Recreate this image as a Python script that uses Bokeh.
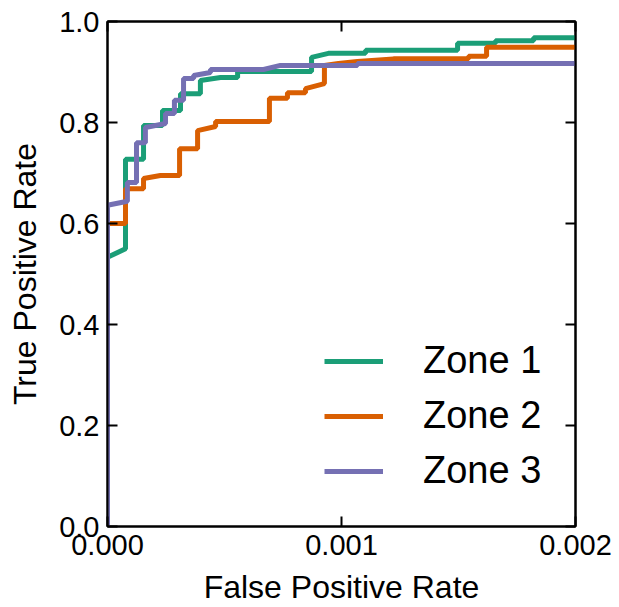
from bokeh.plotting import figure
from bokeh.models import (LinearAxis, FixedTicker, PrintfTickFormatter, CustomJSTickFormatter,
                          Legend, LegendItem, Range1d)
from bokeh.embed import file_html
from bokeh.resources import INLINE

# ---------------- data ----------------
zone1_fpr = [0.0, 0.0, 0.077e-3, 0.077e-3, 0.154e-3, 0.154e-3, 0.235e-3, 0.235e-3, 0.312e-3,
             0.312e-3, 0.397e-3, 0.397e-3, 0.483e-3, 0.556e-3, 0.556e-3, 0.872e-3, 0.872e-3,
             0.944e-3, 1.103e-3, 1.103e-3, 1.496e-3, 1.496e-3, 1.658e-3, 1.658e-3, 1.821e-3,
             1.821e-3, 2.0e-3]
zone1_tpr = [0.0, 0.533, 0.550, 0.727, 0.727, 0.794, 0.794, 0.824, 0.824,
             0.857, 0.857, 0.883, 0.889, 0.889, 0.901, 0.901, 0.929,
             0.937, 0.937, 0.943, 0.943, 0.957, 0.957, 0.962, 0.962,
             0.968, 0.968]

zone2_fpr = [0.0, 0.0, 0.077e-3, 0.077e-3, 0.154e-3, 0.154e-3, 0.226e-3, 0.308e-3, 0.308e-3,
             0.385e-3, 0.385e-3, 0.462e-3, 0.462e-3, 0.692e-3, 0.692e-3, 0.769e-3, 0.769e-3,
             0.846e-3, 0.846e-3, 0.927e-3, 0.927e-3, 0.987e-3, 1.068e-3, 1.222e-3, 1.543e-3,
             1.543e-3, 1.620e-3, 1.620e-3, 2.0e-3]
zone2_tpr = [0.0, 0.600, 0.600, 0.669, 0.669, 0.689, 0.695, 0.695, 0.748,
             0.748, 0.784, 0.792, 0.802, 0.802, 0.848, 0.848, 0.859,
             0.859, 0.867, 0.877, 0.913, 0.917, 0.921, 0.926, 0.926,
             0.931, 0.931, 0.949, 0.949]

zone3_fpr = [0.0, 0.0, 0.085e-3, 0.085e-3, 0.124e-3, 0.124e-3, 0.162e-3, 0.162e-3, 0.248e-3,
             0.248e-3, 0.286e-3, 0.286e-3, 0.325e-3, 0.325e-3, 0.368e-3, 0.368e-3, 0.440e-3,
             0.440e-3, 0.667e-3, 0.739e-3, 1.068e-3, 1.068e-3, 2.0e-3]
zone3_tpr = [0.0, 0.636, 0.644, 0.681, 0.681, 0.760, 0.760, 0.790, 0.798,
             0.818, 0.818, 0.844, 0.844, 0.887, 0.887, 0.893, 0.899,
             0.905, 0.905, 0.913, 0.913, 0.917, 0.917]

series_names = ["Zone 1", "Zone 2", "Zone 3"]
series_colors = ["#1b9e77", "#d95f02", "#7570b3"]

x_ticks = [0.0, 0.001, 0.002]
y_ticks = [0.0, 0.2, 0.4, 0.6, 0.8, 1.0]

FONT = "Liberation Sans"

p = figure(width=619, height=607, output_backend="svg", toolbar_location=None,
           x_range=Range1d(0, 0.002), y_range=Range1d(0, 1.0),
           min_border_left=107, min_border_right=44, min_border_top=21, min_border_bottom=81,
           x_axis_label="False Positive Rate", y_axis_label="True Positive Rate")
p.grid.visible = False
p.outline_line_color = "black"
p.outline_line_width = 2
p.background_fill_color = "white"
p.border_fill_color = "white"

renderers = []
for xs, ys, c in [(zone1_fpr, zone1_tpr, series_colors[0]),
                  (zone2_fpr, zone2_tpr, series_colors[1]),
                  (zone3_fpr, zone3_tpr, series_colors[2])]:
    r = p.line(xs, ys, line_color=c, line_width=5)
    renderers.append(r)

# main axes
xa = p.xaxis[0]
ya = p.yaxis[0]
xa.ticker = FixedTicker(ticks=x_ticks)
ya.ticker = FixedTicker(ticks=y_ticks)
xa.formatter = PrintfTickFormatter(format="%.3f")
ya.formatter = PrintfTickFormatter(format="%.1f")
for ax in (xa, ya):
    ax.major_tick_in = 10
    ax.major_tick_out = 0
    ax.minor_tick_line_color = None
    ax.major_tick_line_width = 2
    ax.axis_line_width = 2
    ax.axis_line_color = "black"
    ax.major_tick_line_color = "black"
    ax.major_label_text_font = FONT
    ax.major_label_text_font_size = "29px"
    ax.major_label_text_color = "black"
    ax.axis_label_text_font = FONT
    ax.axis_label_text_font_size = "32px"
    ax.axis_label_text_font_style = "normal"
    ax.axis_label_text_color = "black"
xa.major_label_standoff = 8
xa.axis_label_standoff = 11
ya.major_label_standoff = 8
ya.axis_label_standoff = 13

# mirrored ticks on top and right
blank = CustomJSTickFormatter(code="return ''")
top = LinearAxis(ticker=FixedTicker(ticks=x_ticks), formatter=blank)
right = LinearAxis(ticker=FixedTicker(ticks=y_ticks), formatter=blank)
for ax in (top, right):
    ax.major_tick_in = 10
    ax.major_tick_out = 0
    ax.minor_tick_line_color = None
    ax.major_tick_line_width = 2
    ax.axis_line_width = 2
    ax.major_label_standoff = 0
    ax.major_label_text_font_size = "1px"
p.add_layout(top, "above")
p.add_layout(right, "right")

legend = Legend(items=[LegendItem(label=n, renderers=[r]) for n, r in zip(series_names, renderers)],
                location=(217, 34), border_line_color=None, background_fill_alpha=0,
                padding=0, margin=0, spacing=12, glyph_width=59, glyph_height=40,
                label_height=40, label_standoff=40,
                label_text_font=FONT, label_text_font_size="38px", label_text_color="black")
p.add_layout(legend)

open("out.html", "w").write(file_html(p, INLINE))
